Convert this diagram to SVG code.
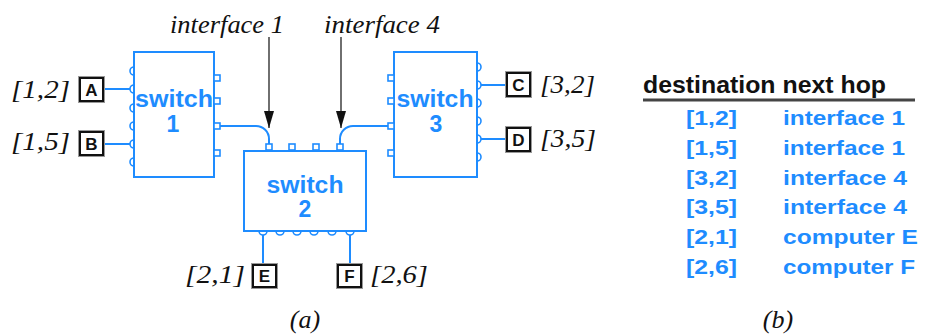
<svg xmlns="http://www.w3.org/2000/svg" width="925" height="335" viewBox="0 0 925 335">
<style>
.sw{fill:#fff;stroke:#1E8CFF;stroke-width:2}
.port{fill:#fff;stroke:#1E8CFF;stroke-width:1.6}
.bump{fill:none;stroke:#1E8CFF;stroke-width:1.6}
.wire{fill:none;stroke:#1E8CFF;stroke-width:2}
.swt{font-family:"Liberation Sans",Arial,sans-serif;font-weight:bold;font-size:23px;fill:#1E8CFF;text-anchor:middle}
.host{fill:#fff;stroke:#111;stroke-width:2}
.hosto{fill:none;stroke:#999;stroke-width:1}
.hl{font-family:"Liberation Sans",Arial,sans-serif;font-weight:bold;font-size:17px;fill:#111;text-anchor:middle}
.it{font-family:"Liberation Serif","Times New Roman",serif;font-style:italic;font-size:26px;fill:#111}
.arr{stroke:#222;stroke-width:1.3;fill:none}
.th{font-family:"Liberation Sans",Arial,sans-serif;font-weight:bold;font-size:23px;fill:#111}
.td{font-family:"Liberation Sans",Arial,sans-serif;font-weight:bold;font-size:21px;fill:#1E8CFF}
</style>
<defs>
<marker id="ah" markerUnits="userSpaceOnUse" markerWidth="18" markerHeight="11" refX="17" refY="5" orient="auto">
<path d="M0,0 L17,5 L0,10 Z" fill="#111"/>
</marker>
</defs>

<g id="connectors">
<path class="wire" d="M103 89 H130"/>
<path class="wire" d="M103 144 H130"/>
<path class="wire" d="M481 85 H507"/>
<path class="wire" d="M481 139 H507"/>
<path class="wire" d="M263 235 V265"/>
<path class="wire" d="M350 235 V265"/>
<path class="wire" d="M220 126 H256 A13 13 0 0 1 269 139 V144"/>
<path class="wire" d="M388 126 H353 A13 13 0 0 0 340 139 V144"/>
</g>

<g id="switch1">
<rect class="sw" x="134" y="52" width="80" height="125"/>
<path class="bump" d="M134 67 A4 4 0 0 0 134 75 M134 85 A4 4 0 0 0 134 93 M134 104 A4 4 0 0 0 134 112 M134 122 A4 4 0 0 0 134 130 M134 140 A4 4 0 0 0 134 148 M134 158 A4 4 0 0 0 134 166"/>
<rect class="port" x="214" y="75" width="6" height="6"/>
<rect class="port" x="214" y="98" width="6" height="6"/>
<rect class="port" x="214" y="123" width="6" height="6"/>
<rect class="port" x="214" y="150" width="6" height="6"/>
<text class="swt" x="174" y="107" textLength="78" lengthAdjust="spacingAndGlyphs">switch</text>
<text class="swt" x="173" y="132">1</text>
</g>

<g id="switch3">
<rect class="sw" x="394" y="52" width="83" height="125"/>
<path class="bump" d="M477 63 A4 4 0 0 1 477 71 M477 81 A4 4 0 0 1 477 89 M477 99 A4 4 0 0 1 477 107 M477 117 A4 4 0 0 1 477 125 M477 135 A4 4 0 0 1 477 143 M477 153 A4 4 0 0 1 477 161"/>
<rect class="port" x="388" y="75" width="6" height="6"/>
<rect class="port" x="388" y="98" width="6" height="6"/>
<rect class="port" x="388" y="123" width="6" height="6"/>
<rect class="port" x="388" y="150" width="6" height="6"/>
<text class="swt" x="435" y="107" textLength="77" lengthAdjust="spacingAndGlyphs">switch</text>
<text class="swt" x="436" y="132">3</text>
</g>

<g id="switch2">
<rect class="sw" x="244" y="151" width="122" height="80"/>
<rect class="port" x="266" y="144" width="6" height="6"/>
<rect class="port" x="289" y="144" width="6" height="6"/>
<rect class="port" x="313" y="144" width="6" height="6"/>
<rect class="port" x="337" y="144" width="6" height="6"/>
<path class="bump" d="M259 231 A4 4 0 0 0 267 231 M276 231 A4 4 0 0 0 284 231 M293 231 A4 4 0 0 0 301 231 M310 231 A4 4 0 0 0 318 231 M328 231 A4 4 0 0 0 336 231 M346 231 A4 4 0 0 0 354 231"/>
<text class="swt" x="305" y="193" textLength="77" lengthAdjust="spacingAndGlyphs">switch</text>
<text class="swt" x="305" y="217">2</text>
</g>

<g id="hostA">
<rect class="hosto" x="78.5" y="76.5" width="26" height="26"/>
<rect class="host" x="80" y="78" width="23" height="23"/>
<text class="hl" x="91.5" y="95.5">A</text>
<text class="it" x="11" y="98" textLength="59" lengthAdjust="spacingAndGlyphs">[1,2]</text>
</g>
<g id="hostB">
<rect class="hosto" x="78.5" y="130.5" width="26" height="26"/>
<rect class="host" x="80" y="132" width="23" height="23"/>
<text class="hl" x="91.5" y="149.5">B</text>
<text class="it" x="11" y="150" textLength="59" lengthAdjust="spacingAndGlyphs">[1,5]</text>
</g>
<g id="hostC">
<rect class="hosto" x="505.5" y="71.5" width="26" height="26"/>
<rect class="host" x="507" y="73" width="23" height="23"/>
<text class="hl" x="518.5" y="90.5">C</text>
<text class="it" x="540" y="93" textLength="55" lengthAdjust="spacingAndGlyphs">[3,2]</text>
</g>
<g id="hostD">
<rect class="hosto" x="505.5" y="126.5" width="26" height="26"/>
<rect class="host" x="507" y="128" width="23" height="23"/>
<text class="hl" x="518.5" y="145.5">D</text>
<text class="it" x="540" y="147" textLength="56" lengthAdjust="spacingAndGlyphs">[3,5]</text>
</g>
<g id="hostE">
<rect class="hosto" x="251.5" y="263.5" width="26" height="25"/>
<rect class="host" x="253" y="265" width="23" height="22"/>
<text class="hl" x="264.5" y="282">E</text>
<text class="it" x="185" y="283" textLength="60" lengthAdjust="spacingAndGlyphs">[2,1]</text>
</g>
<g id="hostF">
<rect class="hosto" x="336.5" y="263.5" width="26" height="25"/>
<rect class="host" x="338" y="265" width="23" height="22"/>
<text class="hl" x="349.5" y="282">F</text>
<text class="it" x="370" y="283" textLength="58" lengthAdjust="spacingAndGlyphs">[2,6]</text>
</g>

<g id="interface1">
<text class="it" x="170" y="33" textLength="114" lengthAdjust="spacingAndGlyphs">interface 1</text>
<line class="arr" x1="269" y1="37" x2="269" y2="128" marker-end="url(#ah)"/>
</g>
<g id="interface4">
<text class="it" x="324" y="33" textLength="116" lengthAdjust="spacingAndGlyphs">interface 4</text>
<line class="arr" x1="341" y1="37" x2="341" y2="128" marker-end="url(#ah)"/>
</g>

<text class="it" x="305" y="328" text-anchor="middle">(a)</text>

<g id="table">
<text class="th" x="643" y="93" textLength="243" lengthAdjust="spacingAndGlyphs">destination next hop</text>
<line x1="643" y1="100" x2="915" y2="100" stroke="#444" stroke-width="3"/>
<text class="td" x="686" y="125" textLength="51" lengthAdjust="spacingAndGlyphs">[1,2]</text>
<text class="td" x="783" y="125" textLength="122" lengthAdjust="spacingAndGlyphs">interface 1</text>
<text class="td" x="686" y="155" textLength="51" lengthAdjust="spacingAndGlyphs">[1,5]</text>
<text class="td" x="783" y="155" textLength="122" lengthAdjust="spacingAndGlyphs">interface 1</text>
<text class="td" x="686" y="185" textLength="51" lengthAdjust="spacingAndGlyphs">[3,2]</text>
<text class="td" x="783" y="185" textLength="124" lengthAdjust="spacingAndGlyphs">interface 4</text>
<text class="td" x="686" y="214" textLength="51" lengthAdjust="spacingAndGlyphs">[3,5]</text>
<text class="td" x="783" y="214" textLength="124" lengthAdjust="spacingAndGlyphs">interface 4</text>
<text class="td" x="686" y="244" textLength="51" lengthAdjust="spacingAndGlyphs">[2,1]</text>
<text class="td" x="783" y="244" textLength="135" lengthAdjust="spacingAndGlyphs">computer E</text>
<text class="td" x="686" y="274" textLength="51" lengthAdjust="spacingAndGlyphs">[2,6]</text>
<text class="td" x="783" y="274" textLength="132" lengthAdjust="spacingAndGlyphs">computer F</text>
</g>

<text class="it" x="778" y="328" text-anchor="middle">(b)</text>
</svg>
